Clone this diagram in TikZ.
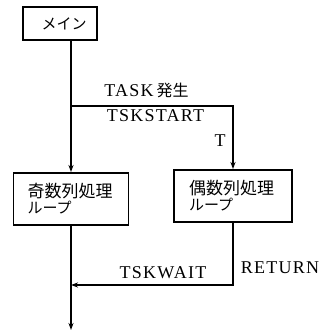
\documentclass[tikz,border=0pt]{standalone}
\usepackage{fontspec}
\setmainfont{Liberation Serif}
\newfontfamily\jp{Noto Sans CJK JP}
\newfontfamily\lat[LetterSpace=7]{Liberation Serif}
\usetikzlibrary{arrows.meta}
\begin{document}
\begin{tikzpicture}[x=1pt,y=-1pt,
  boxnode/.style={draw, line width=1.9pt, inner sep=0pt},
  conn/.style={line width=1.3pt},
  arr/.style={conn, -{Stealth[length=7pt,width=5pt]}},
  lbl/.style={font=\lat\fontsize{18}{20}\selectfont, inner sep=0pt}
]
\useasboundingbox (0,0) rectangle (326,334);
% boxes
\node[boxnode, minimum width=74pt, minimum height=33pt] (main) at (60,23.5) {};
\node[font=\jp\fontsize{15}{18}\selectfont, inner sep=0pt] (maint) at (64,23.5) {メイン};
\node[boxnode, minimum width=115pt, minimum height=52pt, align=left, text width=87pt, inner xsep=14pt] (odd) at (71,199)
  {{\jp\fontsize{17}{18}\selectfont 奇数列処理}\\[1pt]{\jp\fontsize{15}{17}\selectfont ループ}};
\node[boxnode, minimum width=118pt, minimum height=52pt, align=left, text width=88pt, inner xsep=15pt] (even) at (233,196)
  {{\jp\fontsize{17}{18}\selectfont 偶数列処理}\\[1pt]{\jp\fontsize{15}{17}\selectfont ループ}};
% coordinates
\coordinate (br) at (71,106);
\coordinate (ret) at (71,285);
\coordinate (end) at (71,330);
% connectors
\draw[arr] (main.south -| odd.north) -- (odd.north);
\draw[arr] (br) -| (even.north);
\draw[arr] (even.south) |- (ret);
\draw[arr] (odd.south) -- (end);
% labels
\node[lbl] (task) at (146.5,90) {TASK\,{\jp\fontsize{16}{18}\selectfont 発生}};
\node[lbl] (tskstart) at (155.5,116) {TSKSTART};
\node[lbl] (t) at (220,141) {T};
\node[lbl] (tskwait) at (163,273) {TSKWAIT};
\node[lbl] (return) at (280,268) {RETURN};
\end{tikzpicture}
\end{document}
